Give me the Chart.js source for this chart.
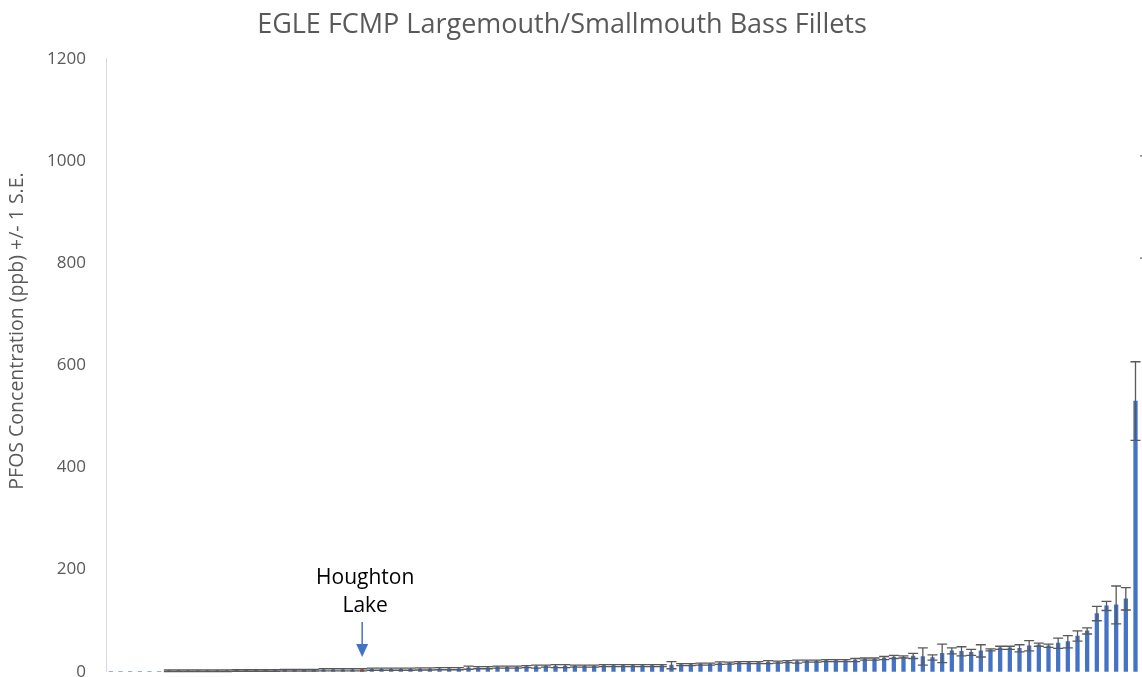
<!DOCTYPE html>
<html>
<head>
<meta charset="utf-8">
<script src="https://cdn.jsdelivr.net/npm/chart.js@4.4.1/dist/chart.umd.min.js"></script>
<style>
  html, body { margin: 0; padding: 0; background: #fff; overflow: hidden; }
  #wrap { position: absolute; left: 0; top: 0; width: 1150px; height: 702px; }
</style>
</head>
<body>
<div id="wrap"><canvas id="pfosChart" width="1150" height="702"></canvas></div>
<script>
// sites sorted by mean PFOS, ppb
const pfosMean = [
    0.5, 0.5, 0.5, 0.5, 0.5, 0.5, 2, 2, 2, 2,
    2, 2, 2, 2.5, 2.5, 2.5, 2.5, 2.5, 3, 3,
    3, 3, 4, 4, 4, 4, 4, 5, 5, 5,
    5, 5, 5.5, 5.5, 6, 6, 6, 8, 8, 8,
    9, 9, 9, 10, 10, 11, 11, 11, 11, 11,
    11, 12, 12, 12, 12, 12, 12, 12, 13, 14,
    14, 15, 15, 17, 17, 18, 18, 18, 19, 19,
    20, 20, 21, 21, 22, 22, 22, 23, 25, 25,
    27, 29, 29, 31, 30, 28, 36, 41, 40, 38,
    41, 43, 47, 47, 46, 51, 53, 51, 56, 59,
    70, 80, 114, 129, 131, 143, 530, 910
];
// +/- 1 standard error
const pfosSE = [
    0, 0, 0, 0, 0, 0, 1.5, 1.5, 1.5, 1.5,
    1.5, 1.5, 1.5, 1.5, 1.5, 1.5, 1.5, 1.5, 1.5, 1.5,
    1.5, 1.5, 2, 2, 2, 2, 2, 2, 2, 2,
    2, 2, 2, 2, 2, 2, 2, 3, 2, 2,
    2, 2, 2, 2, 3, 2, 3, 3, 2, 2,
    2, 2, 2, 2, 2, 2, 2, 2, 7, 2,
    2, 2, 2, 2.5, 2, 2, 2, 2, 3, 2,
    2, 3, 2, 2, 2, 2, 2, 3, 2, 2,
    3, 3, 2, 5, 17, 5, 18, 6, 9, 6,
    12, 2, 3, 3, 7, 10, 3, 3, 10, 12,
    10, 6, 14, 9, 37, 22, 77, 100
];
const siteLabels = pfosMean.map((v, i) => 'Site ' + (i + 1));
const highlightIndex = 26; // Houghton Lake
const yTicks = { min: 0, max: 1200, step: 200 };

const barBlue = '#4472c4';
const barRed = '#e0231b';
const textGray = '#595959';

const errorBars = {
    id: 'errorBars',
    afterDatasetsDraw(chart) {
        const ctx = chart.ctx;
        const y = chart.scales.y;
        const meta = chart.getDatasetMeta(0);
        ctx.save();
        ctx.strokeStyle = '#595959';
        ctx.lineWidth = 1.3;
        meta.data.forEach((bar, i) => {
            const se = pfosSE[i];
            if (!se) return;
            const top = y.getPixelForValue(pfosMean[i] + se);
            const bot = y.getPixelForValue(Math.max(0, pfosMean[i] - se));
            const cap = 5;
            ctx.beginPath();
            ctx.moveTo(bar.x, top); ctx.lineTo(bar.x, bot);
            ctx.moveTo(bar.x - cap, top); ctx.lineTo(bar.x + cap, top);
            ctx.moveTo(bar.x - cap, bot); ctx.lineTo(bar.x + cap, bot);
            ctx.stroke();
        });
        ctx.restore();
    }
};

// title nudged left a little, y title drawn by hand to sit where the original does
const labelsAndNote = {
    id: 'labelsAndNote',
    afterLayout(chart) {
        if (chart.titleBlock) chart.titleBlock.right -= 26;
    },
    afterDraw(chart) {
        const ctx = chart.ctx;
        const bar = chart.getDatasetMeta(0).data[highlightIndex];
        const x = bar.x;
        ctx.save();
        ctx.fillStyle = '#000';
        ctx.font = '21px "Open Sans"';
        ctx.textAlign = 'center';
        ctx.textBaseline = 'middle';
        ctx.fillText('Houghton', x + 3, 578);
        ctx.fillText('Lake', x + 3, 606);
        ctx.strokeStyle = barBlue;
        ctx.fillStyle = barBlue;
        ctx.lineWidth = 1.5;
        ctx.beginPath();
        ctx.moveTo(x, 622); ctx.lineTo(x, 648);
        ctx.stroke();
        ctx.beginPath();
        ctx.moveTo(x - 6, 644); ctx.lineTo(x + 6, 644); ctx.lineTo(x, 657);
        ctx.closePath();
        ctx.fill();

        ctx.translate(17, 331);
        ctx.rotate(-Math.PI / 2);
        ctx.fillStyle = textGray;
        ctx.font = '19.5px "Open Sans"';
        ctx.fillText('PFOS Concentration (ppb) +/- 1 S.E.', 0, 0);
        ctx.restore();
    }
};

new Chart(document.getElementById('pfosChart'), {
    type: 'bar',
    data: {
        labels: siteLabels,
        datasets: [{
            data: pfosMean,
            backgroundColor: pfosMean.map((v, i) => i === highlightIndex ? barRed : barBlue),
            barThickness: 3.6
        }]
    },
    options: {
        responsive: false,
        animation: false,
        devicePixelRatio: 1,
        layout: { padding: { left: 0, right: 0, top: 0, bottom: 6 } },
        plugins: {
            legend: { display: false },
            tooltip: { enabled: false },
            title: {
                display: true,
                text: 'EGLE FCMP Largemouth/Smallmouth Bass Fillets',
                color: textGray,
                font: { family: '"Open Sans"', size: 27, weight: 'normal' },
                padding: { top: 9, bottom: 17.5 }
            }
        },
        scales: {
            x: { display: false },
            y: {
                min: yTicks.min,
                max: yTicks.max,
                ticks: {
                    stepSize: yTicks.step,
                    color: textGray,
                    padding: 20,
                    font: { family: '"Open Sans"', size: 17 },
                    callback: (v) => String(v)
                },
                grid: { display: false, drawTicks: false },
                border: { display: true, color: '#d9d9d9', width: 1 },
                afterFit(scale) { scale.width = 106; }
            }
        }
    },
    plugins: [errorBars, labelsAndNote]
});
</script>
</body>
</html>
